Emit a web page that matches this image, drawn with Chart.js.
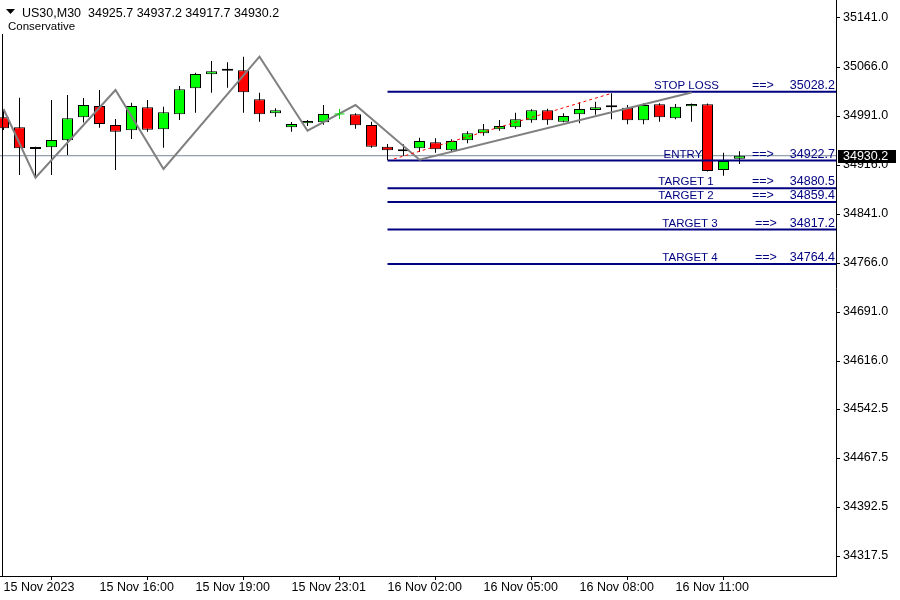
<!DOCTYPE html>
<html><head><meta charset="utf-8">
<script src="https://cdn.jsdelivr.net/npm/chart.js@4.4.0/dist/chart.umd.min.js"></script>
<style>html,body{margin:0;padding:0;background:#fff}canvas{display:block}</style>
</head><body>
<canvas id="c" width="900" height="600"></canvas>
<script>
// ---------- DATA ----------
const symbol = 'US30,M30';
const indicatorName = 'Conservative';
const opens  = [34989.0,34973.7,34940.5,34943.1,34953.8,34989.0,35006.3,34977.2,34969.1,35004.3,34970.6,34993.6,35033.4,35054.8,35060.3,35061.0,35016.6,34995.1,34973.7,34979.8,34981.4,null,34993.6,34977.2,34944.0,34937.0,34941.6,34950.7,34938.5,34953.8,34964.5,34970.6,34973.7,34984.4,34999.7,34982.3,34993.6,35000.2,35004.3,35003.7,34984.4,35008.9,34987.5,35005.8,35008.9,34908.3,34925.7];
const highs  = [35000.2,35019.0,34944.0,35015.5,35023.1,35018.6,35030.8,34986.4,35011.4,35015.5,35005.2,35036.9,35057.3,35075.2,35073.2,35081.8,35026.7,35002.8,34981.8,34984.9,35007.8,null,34995.1,34982.3,34948.1,34947.7,34957.8,34956.9,34955.3,34967.6,34978.8,34984.9,34996.1,35001.3,35002.2,34995.1,35012.0,35012.9,35025.7,35007.8,35010.4,35010.4,35009.4,35010.1,35010.1,34934.8,34937.2];
const lows   = [34969.6,34900.7,34896.6,34900.7,34931.3,34981.1,34973.1,34908.3,34955.8,34967.0,34942.5,34984.9,34996.1,35026.7,35034.3,34996.1,34982.3,34989.9,34967.0,34975.7,34977.7,null,34971.6,34942.5,34923.7,34930.2,34935.9,34934.8,34936.7,34949.2,34960.9,34968.5,34971.6,34980.7,34977.7,34981.4,34979.8,34993.0,34986.0,34978.3,34978.3,34982.3,34986.0,34982.3,34906.0,34899.6,34917.7];
const closes = [34972.2,34941.6,34940.5,34954.3,34987.5,35007.8,34978.8,34967.0,35006.3,34970.0,34996.7,35031.9,35055.3,35059.4,35060.3,35027.3,34993.6,34999.7,34978.8,34983.3,34994.1,null,34976.8,34944.0,34938.5,34940.0,34952.7,34940.0,34952.7,34964.5,34970.6,34975.7,34986.0,34999.7,34984.4,34991.0,35001.7,35004.3,35004.3,34984.4,35007.8,34989.0,35005.2,35009.4,34906.8,34922.1,34930.2];

const timeTickIndex  = [0,6,12,18,24,30,36,42];
const timeTickLabels = ['15 Nov 2023','15 Nov 16:00','15 Nov 19:00','15 Nov 23:01','16 Nov 02:00','16 Nov 05:00','16 Nov 08:00','16 Nov 11:00'];
const priceTicks = [35141.0,35066.0,34991.0,34916.0,34841.0,34766.0,34691.0,34616.0,34542.5,34467.5,34392.5,34317.5];

const levelNames  = ['STOP LOSS','ENTRY','TARGET 1','TARGET 2','TARGET 3','TARGET 4'];
const levelValues = [35028.2,34922.7,34880.5,34859.4,34817.2,34764.4];
const levelStartIndex = 24;

const zigzagIndex = [0,2,7,10,16,19,22,26,43];
const zigzagPrice = [35001.7,34896.6,35030.8,34909.9,35081.8,34968.5,35007.8,34924.0,35027.0];

const trendIndex = [24.4,38];
const trendPrice = [34925.2,35025.7];

const signalIndex = [21];
const signalPrice = [34994.1];

// ---------- VIEW ----------
const X_MIN = -0.21875, X_MAX = 52.03125;
const Y_MIN = 34286.93, Y_MAX = 35168.55;
const FONT = 'Liberation Sans';
const NAVY = '#000080';

const n = closes.length;
const last = n - 1;
const wickData = [], bodyData = [], bodyColors = [];
for (let i = 0; i < n; i++) {
  if (opens[i] === null) continue;
  wickData.push({x: i, y: [lows[i], highs[i]]});
  bodyData.push({x: i, y: [opens[i], closes[i]]});
  bodyColors.push(closes[i] > opens[i] ? '#00ff00' : (closes[i] < opens[i] ? '#ff0000' : '#000000'));
}

const datasets = [];
datasets.push({type:'line', data:[{x:X_MIN,y:closes[last]},{x:X_MAX,y:closes[last]}], borderColor:'#778899', borderWidth:1, pointRadius:0, order:30});
datasets.push({type:'bar', data:wickData, backgroundColor:'#000', borderWidth:0, barThickness:1, grouped:false, inflateAmount:0, order:21});
datasets.push({type:'bar', data:bodyData, backgroundColor:bodyColors, borderColor:'#000', borderWidth:1, borderSkipped:false, barThickness:11, minBarLength:2, grouped:false, inflateAmount:0, order:20});
levelValues.forEach(v => datasets.push({type:'line', data:[{x:levelStartIndex,y:v},{x:X_MAX,y:v}], borderColor:NAVY, borderWidth:2, pointRadius:0, order:6}));
datasets.push({type:'line', data:zigzagIndex.map((x,i)=>({x, y:zigzagPrice[i]})), borderColor:'#808080', borderWidth:2, pointRadius:0, tension:0, order:5});
datasets.push({type:'line', data:trendIndex.map((x,i)=>({x, y:trendPrice[i]})), borderColor:'#ff0000', borderWidth:1, borderDash:[3,3], pointRadius:0, order:4});
datasets.push({type:'line', data:signalIndex.map((x,i)=>({x, y:signalPrice[i]})), showLine:false, pointStyle:'cross', pointRadius:5, pointBorderColor:'#00dd00', pointBorderWidth:1, order:3});

const overlay = {
  id: 'overlay',
  afterDraw(chart) {
    const ctx = chart.ctx, xs = chart.scales.x, ys = chart.scales.y, ca = chart.chartArea;
    ctx.save();
    // left frame
    ctx.strokeStyle = '#000'; ctx.lineWidth = 1;
    ctx.beginPath(); ctx.moveTo(2.5, 34); ctx.lineTo(2.5, ca.bottom); ctx.stroke();
    // header
    ctx.fillStyle = '#000';
    ctx.beginPath(); ctx.moveTo(6, 9); ctx.lineTo(15, 9); ctx.lineTo(10.5, 14); ctx.closePath(); ctx.fill();
    ctx.textBaseline = 'alphabetic'; ctx.textAlign = 'left';
    ctx.font = '12.5px "' + FONT + '"';
    ctx.fillText(symbol + '  ' + [opens[last],highs[last],lows[last],closes[last]].map(v=>v.toFixed(1)).join(' '), 22, 17);
    ctx.font = '11.5px "' + FONT + '"';
    ctx.fillText(indicatorName, 8, 30);
    // level labels
    const nameCenter = [686.5, 683, 686, 686, 690, 690];
    const arrowX = [752, 752, 752, 752, 755, 755];
    ctx.fillStyle = NAVY;
    levelValues.forEach((v, i) => {
      const y = Math.round(ys.getPixelForValue(v)) - 3;
      ctx.font = '11.5px "' + FONT + '"';
      ctx.textAlign = 'center';
      ctx.fillText(levelNames[i], nameCenter[i], y);
      ctx.font = '12.5px "' + FONT + '"';
      ctx.textAlign = 'left';
      ctx.fillText('==>', arrowX[i], y);
      ctx.textAlign = 'right';
      ctx.fillText(v.toFixed(1), ca.right - 1, y);
    });
    // current price box
    const yb = ys.getPixelForValue(closes[last]);
    ctx.fillStyle = '#000';
    ctx.fillRect(838, Math.round(yb) - 6, 58, 13);
    ctx.fillStyle = '#fff';
    ctx.font = '12.5px "' + FONT + '"';
    ctx.textAlign = 'left'; ctx.textBaseline = 'middle';
    ctx.fillText(closes[last].toFixed(1), 843, Math.round(yb) + 1);
    ctx.restore();
  }
};

new Chart(document.getElementById('c'), {
  type: 'bar',
  data: { datasets },
  options: {
    responsive: false,
    devicePixelRatio: 1,
    animation: false,
    layout: { padding: 0, autoPadding: false },
    plugins: { legend: {display:false}, tooltip: {enabled:false}, title:{display:false} },
    scales: {
      x: {
        type: 'linear', position: 'bottom', min: X_MIN, max: X_MAX, offset: false,
        grid: { display: true, drawOnChartArea: false, drawTicks: true, tickLength: 4, color: '#000' },
        border: { display: true, color: '#000', width: 1 },
        afterBuildTicks: s => { s.ticks = timeTickIndex.map(v => ({value: v})); },
        afterFit: s => { s.height = 24; s.paddingLeft = 0; s.paddingRight = 0; s.paddingTop = 0; s.paddingBottom = 0; },
        ticks: {
          autoSkip: false, maxRotation: 0, minRotation: 0, align: 'start', padding: 0,
          color: '#000', font: { family: FONT, size: 12.5 },
          callback: (v) => { const k = timeTickIndex.indexOf(v); return k >= 0 ? timeTickLabels[k] : ''; }
        }
      },
      y: {
        type: 'linear', position: 'right', min: Y_MIN, max: Y_MAX,
        grid: { display: true, drawOnChartArea: false, drawTicks: true, tickLength: 4, color: '#000' },
        border: { display: true, color: '#000', width: 1 },
        afterBuildTicks: s => { s.ticks = priceTicks.map(v => ({value: v})); },
        afterFit: s => { s.width = 64; s.paddingLeft = 0; s.paddingRight = 0; s.paddingTop = 0; s.paddingBottom = 0; },
        ticks: {
          autoSkip: false, padding: 3, color: '#000', font: { family: FONT, size: 12.5 },
          callback: v => Number(v).toFixed(1)
        }
      }
    }
  },
  plugins: [overlay]
});
</script>
</body></html>
